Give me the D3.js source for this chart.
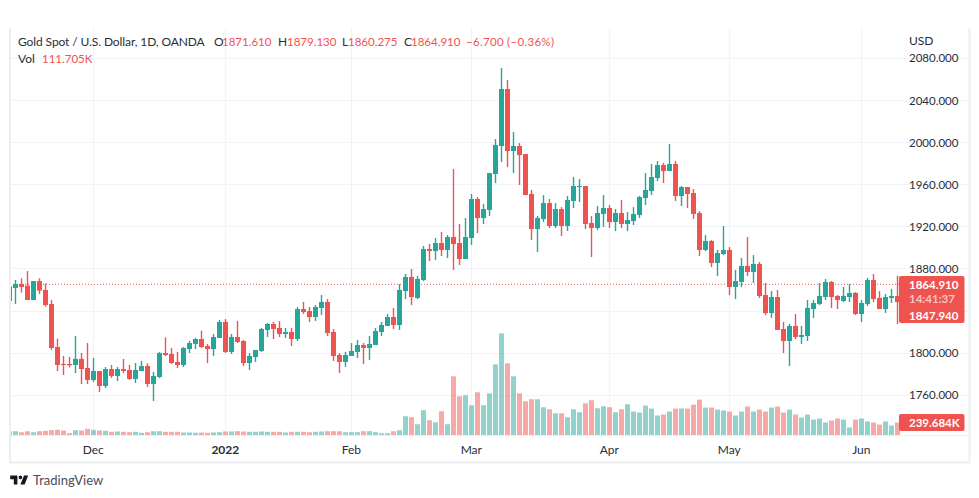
<!DOCTYPE html>
<html><head><meta charset="utf-8">
<script src="https://cdn.jsdelivr.net/npm/d3@7/dist/d3.min.js"></script>
<style>
html,body{margin:0;padding:0;background:#fff}
svg{display:block}
text{font-family:Lato,"Open Sans",sans-serif}
</style></head><body>
<svg id="c" width="979" height="498"></svg>
<script>
const opens=[1849,1861.4,1865.2,1863.6,1850,1868,1859.5,1846.2,1805.3,1789.2,
1789.2,1788.2,1794,1785.4,1774,1782.5,1768.3,1784.4,1777.8,1784.4,
1783.5,1775,1782.5,1787.3,1770.2,1776.8,1799.6,1798.7,1791.1,1788.2,
1803.4,1808.2,1812.9,1806.3,1803.4,1813.9,1829.1,1800.6,1814.8,1811,
1790.1,1795.8,1801.5,1821.5,1827.2,1823.4,1817.7,1819.6,1812.9,1841.4,
1839.5,1833.8,1842.4,1848.1,1819.6,1797.7,1791.1,1796.8,1800.6,1807.2,
1804.4,1807.2,1819.6,1825.3,1833.8,1826.2,1858.5,1871.8,1851.9,1869,
1898.4,1896.5,1904.1,1897.5,1909.8,1904.1,1888.9,1908.9,1945.9,1927.9,
1935.5,1969.7,1996.3,2050.4,1991.5,1996.3,1988.7,1950.7,1917.4,1926.9,
1942.1,1920.3,1936.4,1920.3,1944,1957.3,1958.3,1923.1,1918.4,1931.7,
1937.4,1924.1,1932.6,1922.2,1925,1930.7,1946.9,1953.5,1965.9,1978.2,
1972.5,1979.2,1948.8,1957.3,1951.6,1932.6,1897.5,1906,1885.1,1893.7,
1897.5,1862.3,1867.1,1882.3,1876.6,1884.2,1854.7,1837.6,1852.8,1822.4,
1811,1825.3,1814.8,1815.8,1841.4,1846.2,1852.8,1867.1,1853.8,1849,
1852.8,1856.6,1836.7,1846.2,1869,1851.9,1841.4,1851.9,1853.8];
const closes=[1862.7,1865.2,1862.3,1850,1868,1858.9,1845.2,1804.4,1788.2,1788.2,
1787.9,1794,1784.4,1774,1782.5,1768.3,1784.4,1777.8,1784.4,1782.5,
1775,1783.5,1787.3,1770.2,1777.8,1799.6,1797.7,1790.1,1788.2,1804.4,
1809.1,1812.9,1805.3,1803.4,1814.8,1829.1,1800.6,1814.8,1810.1,1790.1,
1796.8,1802.5,1822.4,1827.2,1822.4,1817.7,1819.6,1812.9,1841.4,1838.6,
1833.8,1843.3,1848.1,1818.6,1796.8,1791.1,1797.7,1801.5,1807.2,1804.4,
1808.2,1820.5,1826.2,1833.8,1826.2,1859.5,1871.8,1852.8,1870,1898.4,
1896.5,1904.1,1897.5,1909.8,1903.2,1888.9,1909.8,1945.9,1927.9,1936.4,
1970.6,1997.2,2050.4,1991.5,1996.3,1987.7,1949.7,1917.4,1927.9,1942.1,
1920.3,1936.4,1920.3,1945,1958.3,1958.3,1922.2,1918.4,1932.6,1937.4,
1924.1,1932.6,1922.2,1926,1931.7,1947.8,1954.5,1966.8,1978.2,1972.5,
1979.2,1948.8,1957.3,1950.7,1931.7,1897.5,1906,1885.1,1894.6,1897.5,
1862.3,1868,1882.3,1876.6,1884.2,1853.8,1837.6,1852.8,1821.5,1811,
1825.3,1814.8,1816.7,1842.4,1847.1,1853.8,1867.1,1852.8,1850,1853.8,
1856.6,1836.7,1847.1,1869,1850.9,1841.4,1852.8,1853.8,1847.94];
const highs=[1862.7,1869,1870.6,1877.5,1868,1870.6,1865.8,1850,1813.3,1796.8,
1795.8,1815.8,1799.6,1809.1,1794.9,1782.5,1786.3,1788.2,1786.3,1794,
1788.2,1790.1,1792,1789.8,1781.6,1800.6,1814.5,1804.4,1800.6,1805.3,
1811,1813.9,1820.9,1808.2,1817.7,1831,1831.9,1817.7,1830,1812,
1799.6,1802.5,1823.4,1828.1,1829.1,1830,1823.4,1823.4,1843.3,1848.1,
1843.3,1845.2,1854.7,1850.9,1822.4,1799.6,1800.6,1809.1,1812,1809.1,
1815.8,1823.4,1829.1,1836.7,1842.4,1865.2,1874.7,1879.4,1872.8,1901.3,
1903.2,1908.9,1914.6,1911.7,1974.4,1922.2,1927.9,1950.7,1947.8,1941.2,
1970.6,2002.9,2070.4,2059,2009.6,1999.1,1988.7,1954.5,1929.8,1949.7,
1945.9,1942.1,1938.3,1948.8,1966.8,1964.9,1958.3,1929.8,1939.3,1949.7,
1940.2,1936.4,1945,1933.6,1938.3,1948.8,1970.6,1979.2,1982,1980.2,
1998.2,1982,1958.3,1957.3,1955.4,1934.5,1911.7,1907,1897.5,1920.3,
1900.3,1878.5,1889.9,1909.8,1892.7,1886.1,1866.1,1858.5,1859.5,1829.1,
1827.2,1836.7,1825.3,1850,1850,1866.1,1869.9,1868,1854.7,1862.3,
1865.2,1857.6,1850,1870.9,1874.7,1858.5,1855.7,1860.4,1872.8];
const lows=[1849,1846.2,1857,1850,1850,1855.7,1843.7,1802.5,1782.5,1778.7,
1786,1780.6,1770.2,1770.2,1772.1,1762.6,1766.4,1775.9,1773,1780.6,
1774,1771.1,1782.5,1767.3,1754,1775.9,1796.8,1789.2,1785.4,1786.3,
1799.6,1803.4,1804.4,1790.1,1796.8,1813.9,1799.6,1798.7,1809.1,1787.3,
1783.5,1791.1,1800.6,1814.8,1812.9,1814.8,1813.9,1806.3,1811,1836.7,
1829.1,1830,1835.7,1815.8,1792,1780.6,1786.3,1796.8,1794.9,1789.2,
1793,1807.2,1815.8,1825.3,1822.4,1821.5,1850.9,1845.2,1850.9,1868,
1887,1888,1891.8,1889.9,1878.5,1883.2,1888.9,1902.2,1913.6,1922.2,
1929.8,1961.1,1981.1,1976.3,1970.6,1959.2,1949.7,1907,1895.6,1924.1,
1918.4,1918.4,1910.8,1915.5,1937.4,1943.1,1917.4,1890.8,1916.5,1919.3,
1918.4,1915.5,1918.4,1915.5,1921.2,1927.9,1940.2,1949.7,1963,1961.1,
1972.5,1944,1939.3,1937.4,1927,1891.8,1896.5,1881.3,1872.8,1892.7,
1854.7,1850.9,1862.3,1872.8,1866.1,1851.9,1835.7,1832.9,1821.5,1799.6,
1787.3,1812.9,1808.2,1811,1832.9,1845.2,1850,1842.4,1841.4,1848.1,
1848.1,1835.7,1829.1,1844.3,1848.1,1841.4,1837.6,1847.1,1827.2];
const volumesK=[74,79,61,79,61,79,86,98,105,92,
42,98,92,123,105,92,86,68,74,68,
61,68,50,61,79,79,68,68,68,55,
55,50,55,50,55,61,74,74,79,74,
68,68,74,68,68,68,55,68,68,68,
61,68,74,79,79,79,61,61,61,79,
79,61,42,42,79,98,355,337,208,466,
282,245,447,208,1091,723,742,558,797,558,
778,1312,1882,1330,1091,778,631,668,668,521,
484,410,410,337,484,429,594,650,502,539,
521,429,484,576,442,423,552,497,368,386,
442,497,497,497,570,662,515,515,478,460,
442,368,442,534,442,478,442,515,534,423,
478,386,331,386,294,313,239,276,313,294,
147,294,313,258,239,202,258,184,239.684];
const priceTicks=[1760,1800,1840,1880,1920,1960,2000,2040,2080];
const priceLabels=[1760,1800,1880,1920,1960,2000,2040,2080];
const timeTickIndex=[14,36,57,77,100,120,142];
const timeTickLabels=["Dec","2022","Feb","Mar","Apr","May","Jun"];
const lastDayClose=1864.91, currentPrice=1847.94, currentVolK=239.684;

const UP="#26a69a",DOWN="#ef5350",GRID="#f0f3fa",FRAME="#eceef0",INK="#2a2e39";
const svg=d3.select("#c");
const left=10,right=899,bottom=435.5,frameR=968;
const defs=svg.append("defs");
defs.append("clipPath").attr("id","pane").append("rect").attr("x",left).attr("y",28).attr("width",right-left+1).attr("height",bottom-28);
const x=d3.scaleLinear().domain([0,148]).range([9.3,897.3]);
const y=d3.scaleLinear().domain([1760,2080]).range([394.7,57.9]);
const v=d3.scaleLinear().domain([0,239.684]).range([bottom,bottom-13]);

const grid=svg.append("g").attr("shape-rendering","crispEdges");
grid.selectAll(".h").data(priceTicks).join("line").attr("x1",left).attr("x2",frameR)
 .attr("y1",d=>Math.round(y(d))+.5).attr("y2",d=>Math.round(y(d))+.5).attr("stroke",GRID);
grid.selectAll(".v").data(timeTickIndex).join("line").attr("y1",28).attr("y2",bottom)
 .attr("x1",d=>Math.round(x(d))+.5).attr("x2",d=>Math.round(x(d))+.5).attr("stroke",GRID);

const pane=svg.append("g").attr("clip-path","url(#pane)");
const idx=d3.range(opens.length);
pane.selectAll(".vol").data(idx).join("rect")
 .attr("x",i=>Math.round(x(i))-2).attr("width",5)
 .attr("y",i=>v(volumesK[i])).attr("height",i=>bottom-v(volumesK[i]))
 .attr("fill",i=>closes[i]>=opens[i]?UP:DOWN).attr("fill-opacity",.5);
pane.append("line").attr("x1",left).attr("x2",right).attr("y1",y(lastDayClose)).attr("y2",y(lastDayClose))
 .attr("stroke",DOWN).attr("stroke-dasharray","1 2").attr("stroke-width",1);
const cc=pane.selectAll(".c").data(idx).join("g").attr("fill",i=>closes[i]>=opens[i]?UP:DOWN);
cc.append("rect").attr("x",i=>Math.round(x(i))-0.2).attr("width",1.4)
 .attr("y",i=>y(highs[i])).attr("height",i=>y(lows[i])-y(highs[i]));
cc.append("rect").attr("x",i=>Math.round(x(i))-2).attr("width",5)
 .attr("y",i=>y(Math.max(opens[i],closes[i]))).attr("height",i=>Math.max(1,Math.abs(y(opens[i])-y(closes[i]))));

// frame
const fr=svg.append("g").attr("fill","none").attr("stroke",FRAME).attr("stroke-width",2);
fr.append("line").attr("x1",10).attr("x2",10).attr("y1",28).attr("y2",463);
fr.append("line").attr("x1",9).attr("x2",970).attr("y1",462.5).attr("y2",462.5);
fr.append("line").attr("x1",969.5).attr("x2",969.5).attr("y1",28).attr("y2",463);
svg.append("line").attr("x1",10).attr("x2",968).attr("y1",435.5).attr("y2",435.5).attr("stroke",FRAME);

// axes text
const yA=d3.axisRight(y).tickValues(priceLabels).tickSize(0).tickPadding(0).tickFormat(d3.format(".3f"));
const ya=svg.append("g").attr("transform","translate(909,0)").call(yA);
ya.select(".domain").remove();
ya.selectAll("text").attr("font-size",11.5).attr("fill",INK).style("font-family",'Lato,"Open Sans",sans-serif').attr("dy","0.35em");
svg.append("text").attr("x",909).attr("y",45).attr("font-size",12).attr("fill",INK).text("USD");
svg.selectAll(".tl").data(timeTickIndex).join("text").attr("x",d=>x(d)).attr("y",453.5).attr("text-anchor","middle")
 .attr("font-size",12).attr("fill",INK).attr("font-weight",(d,i)=>timeTickLabels[i]==="2022"?700:400).text((d,i)=>timeTickLabels[i]);

// header
function T(x0,yy,s,c,sz,ls){svg.append("text").attr("x",x0).attr("y",yy).attr("font-size",sz||12).attr("letter-spacing",ls||0).attr("fill",c).text(s);}
T(18,46,"Gold Spot / U.S. Dollar, 1D, OANDA",INK,12,-0.1);
T(214,46,"O",INK);T(222,46,"1871.610",DOWN,11.5);
T(278,46,"H",INK);T(287,46,"1879.130",DOWN,11.5);
T(342,46,"L",INK);T(348,46,"1860.275",DOWN,11.5);
T(404,46,"C",INK);T(411,46,"1864.910",DOWN,11.5);
T(466,46,"\u22126.700 (\u22120.36%)",DOWN,11.5,0.3);
T(18,63,"Vol",INK,12);T(42,63,"111.705K",DOWN,11.5);

// labels
function box(y0,h,r){return svg.append("rect").attr("x",899).attr("y",y0).attr("width",65.5).attr("height",h).attr("rx",r).attr("fill",DOWN);}
box(276,47,2);
box(414,17,2);
function L(yy,s,c){svg.append("text").attr("x",909).attr("y",yy).attr("font-size",11.5).attr("font-weight",700).attr("fill",c).text(s);}
L(289,d3.format(".3f")(lastDayClose),"#fff");
L(303,"14:41:37","#fbc4c3");
L(320,d3.format(".3f")(currentPrice),"#fff");
L(427,d3.format(".3f")(currentVolK)+"K","#fff");

// logo
svg.append("path").attr("transform","translate(9,472) scale(0.6)").attr("fill","#131722")
 .attr("d","M14 6H2v6h6v9h6V6zm12 15h-7l6-15h7l-6 15zm-7-9a3 3 0 1 0 0-6 3 3 0 0 0 0 6z");
svg.append("text").attr("x",33).attr("y",485).attr("font-size",13).attr("fill","#4a4e59").text("TradingView");
</script></body></html>
